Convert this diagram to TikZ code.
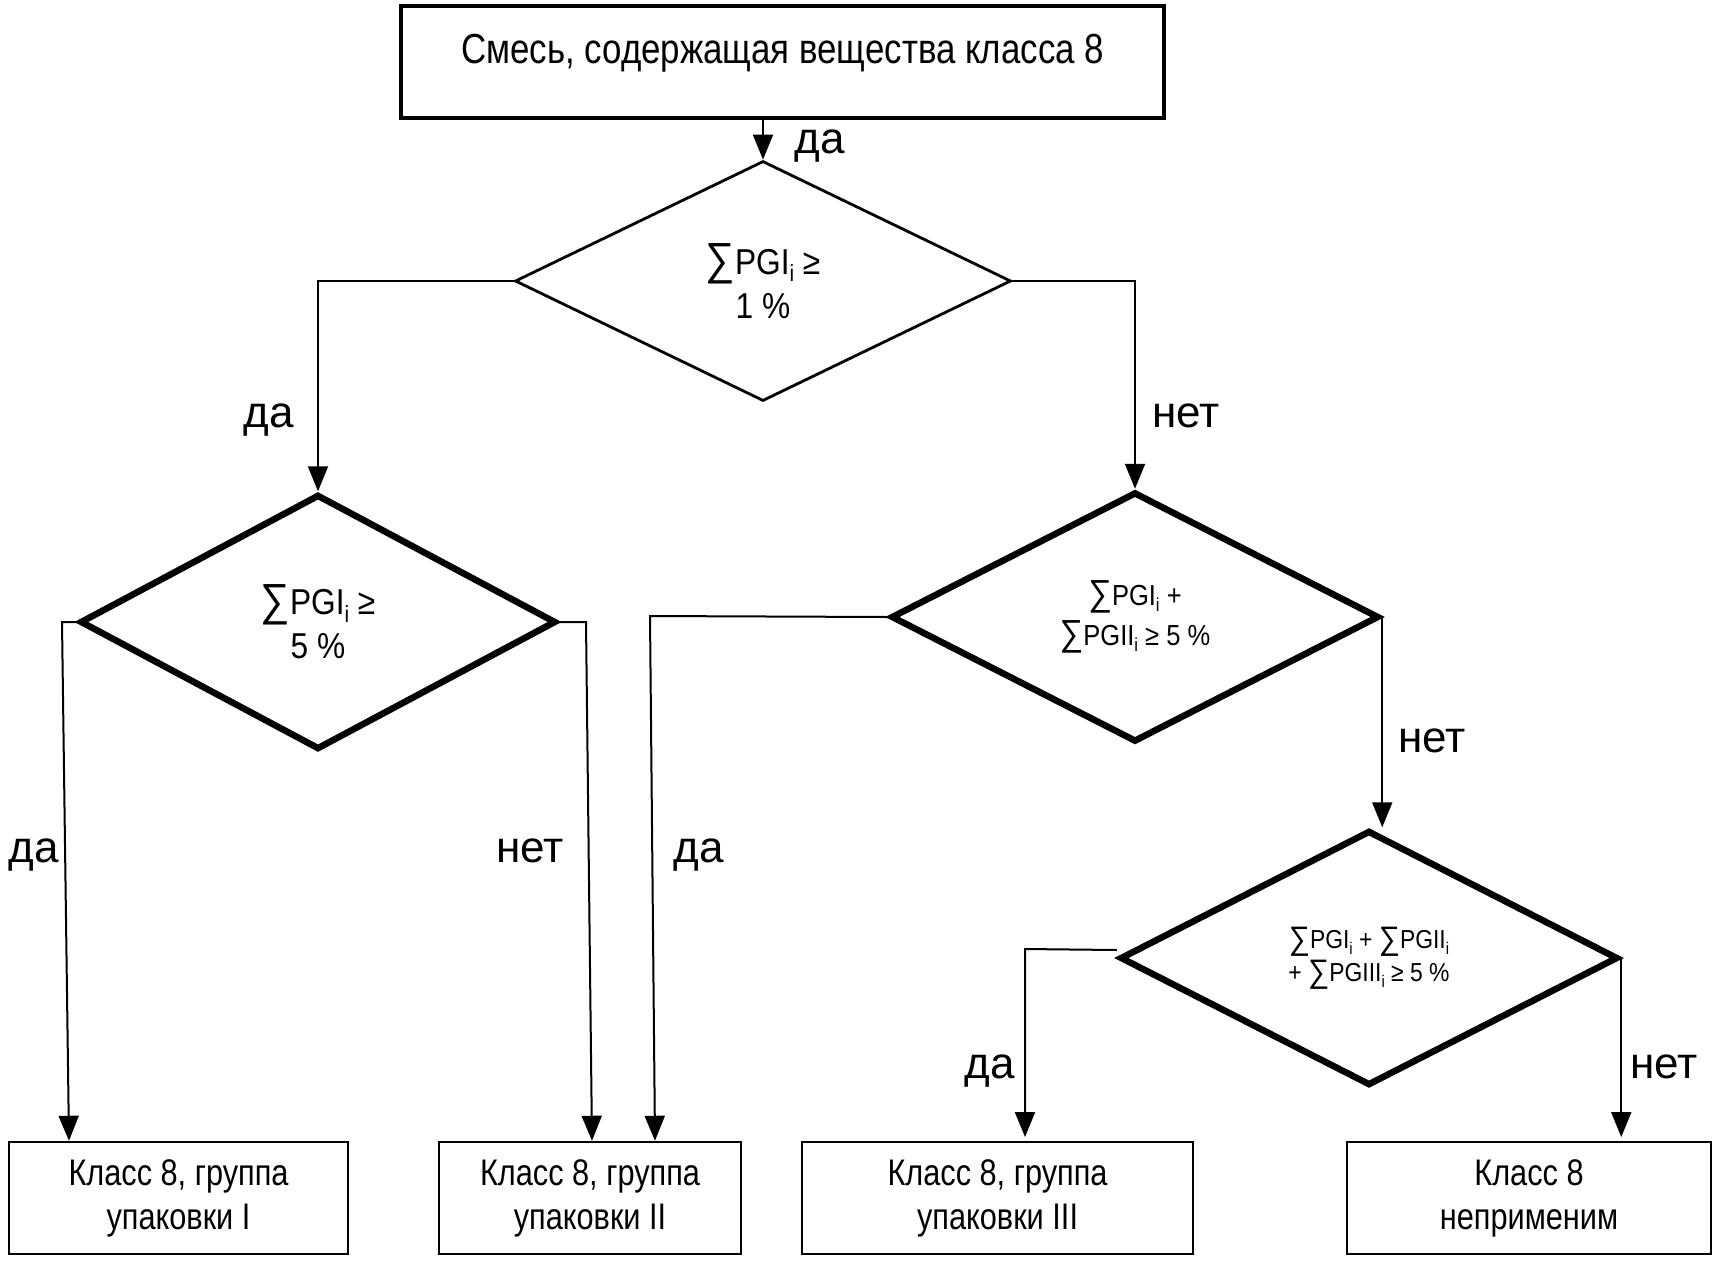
\documentclass[tikz,border=0pt]{standalone}
\usepackage{fontspec}
\setmainfont{Liberation Sans}
\newfontfamily\nar{Liberation Sans}[FakeStretch=0.83]
\newfontfamily\narb{Liberation Sans}[FakeStretch=0.88]
\usetikzlibrary{shapes.geometric,arrows.meta}
\newcommand\subi{\raisebox{-0.22em}{\scalebox{0.65}{i}}}
\newcommand\Sum{\raisebox{-0.02em}{\scalebox{1.3}[1.25]{∑}}}
\begin{document}
\begin{tikzpicture}[x=1pt,y=-1pt,
  conn/.style={line width=2pt},
  arr/.style={conn,-{Triangle[length=25pt,width=20pt]}},
  boxtxt/.style={font=\nar\fontsize{37}{44}\selectfont, align=center},
  outbox/.style={draw, line width=2.5pt, inner sep=0pt, minimum height=112pt, boxtxt},
  dia/.style={draw, diamond, inner sep=0pt, align=center},
  thindia/.style={dia, line width=2.8pt},
  thickdia/.style={dia, line width=6.5pt},
  lbl/.style={font=\fontsize{44}{50}\selectfont, anchor=base, inner sep=0pt}]
\useasboundingbox[fill=white] (0,0) rectangle (1714,1262);

% top box
\node[draw, line width=4pt, minimum width=763pt, minimum height=112pt, inner sep=0pt,
      font=\nar\fontsize{42}{48}\selectfont, align=center] (top) at (782.5,62)
  {\raisebox{-1pt}[0pt][0pt]{Смесь, содержащая вещества класса 8}};

% decisions
\node[thindia, minimum width=496pt, minimum height=240pt, font=\narb\fontsize{36}{44}\selectfont] (d1) at (763,281)
  {\Sum PGI\subi{} ≥\\1 \%};
\node[thickdia, minimum width=476pt, minimum height=255pt, font=\narb\fontsize{36}{44}\selectfont] (d2) at (318,622)
  {\Sum PGI\subi{} ≥\\5 \%};
\node[thickdia, minimum width=488pt, minimum height=250pt, font=\narb\fontsize{29}{40}\selectfont] (d3) at (1135,617)
  {\Sum PGI\subi{} +\\\Sum PGII\subi{} ≥ 5 \%};
\node[thickdia, minimum width=498pt, minimum height=255pt, font=\narb\fontsize{26}{33}\selectfont] (d4) at (1369,958)
  {\Sum PGI\subi{} + \Sum PGII\subi\\+ \Sum PGIII\subi{} ≥ 5 \%};

% results
\node[outbox, minimum width=339pt] (b1) at (178.5,1198) {Класс 8, группа\\упаковки I};
\node[outbox, minimum width=302pt] (b2) at (590,1198) {Класс 8, группа\\упаковки II};
\node[outbox, minimum width=391pt] (b3) at (997.5,1198) {Класс 8, группа\\упаковки III};
\node[outbox, minimum width=364pt] (b4) at (1529,1198) {Класс 8\\неприменим};

% connectors
\draw[arr] (d1.north |- top.south) -- (d1.north);
\draw[arr] (d1.west) -| (d2.north);
\draw[arr] (d1.east) -| (d3.north);
\draw[arr] (d2.west) -- (62,622) -- (69,0 |- b1.north);
\draw[arr] (d2.east) -- (586,622) -- (592,0 |- b2.north);
\draw[arr] (d3.west) -- (650,616) -- (655,0 |- b2.north);
\draw[arr] (d3.east) -- (d3.east |- d4.north);
\draw[arr] ([yshift=8pt]d4.west) -- (1025,949) -- (1025,1137);
\draw[arr] (d4.east) -- (d4.east |- 0,1137);

% labels
\node[lbl] (la) at (820,153) {да};
\node[lbl] (lb) at (269,427) {да};
\node[lbl] (lc) at (1186,427) {нет};
\node[lbl] (ld) at (34,862) {да};
\node[lbl] (le) at (530,862) {нет};
\node[lbl] (lf) at (699,862) {да};
\node[lbl] (lg) at (1432,752) {нет};
\node[lbl] (lh) at (990,1078) {да};
\node[lbl] (li) at (1664,1078) {нет};
\end{tikzpicture}
\end{document}
